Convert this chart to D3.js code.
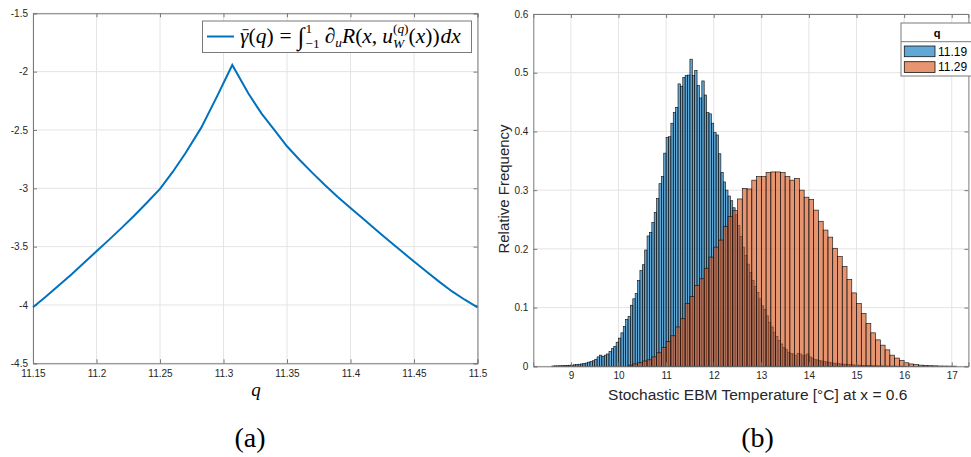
<!DOCTYPE html>
<html>
<head>
<meta charset="utf-8">
<script src="https://cdn.jsdelivr.net/npm/d3@7"></script>
<style>
  body { margin: 0; background: #fff; }
  svg { display: block; }
</style>
</head>
<body>
<script>
// ---- panel (a): gamma bar vs q ----
var qValues = [11.15, 11.16, 11.17, 11.18, 11.19, 11.20, 11.21, 11.22, 11.23, 11.24, 11.25, 11.26, 11.27,
               11.2826, 11.295, 11.3069, 11.3195, 11.33, 11.34, 11.35, 11.36, 11.37, 11.38, 11.39, 11.40,
               11.41, 11.42, 11.43, 11.44, 11.45, 11.46, 11.47, 11.48, 11.49, 11.50];
var gammaValues = [-4.02, -3.93, -3.835, -3.74, -3.64, -3.54, -3.44, -3.337, -3.231, -3.12, -3.005, -2.86, -2.70,
                   -2.478, -2.21, -1.943, -2.186, -2.36, -2.50, -2.64, -2.757, -2.868, -2.974, -3.074, -3.168,
                   -3.262, -3.355, -3.447, -3.538, -3.628, -3.716, -3.802, -3.884, -3.955, -4.02];
var leftXTicks = [11.15, 11.2, 11.25, 11.3, 11.35, 11.4, 11.45, 11.5];
var leftYTicks = [-4.5, -4, -3.5, -3, -2.5, -2, -1.5];

// ---- panel (b): histograms (pdf normalisation) ----
var seriesNames = ["11.19", "11.29"];
var blueStart = 8.6, blueWidth = 0.05;
var blueDensity = [
  0.0005, 0.0008, 0.0008, 0.001, 0.001, 0.0012, 0.0015, 0.0018, 0.002, 0.0025,
  0.003, 0.0035, 0.004, 0.005, 0.0055, 0.007, 0.008, 0.0095, 0.012, 0.016,
  0.019, 0.017, 0.019, 0.021, 0.025, 0.030, 0.034, 0.041, 0.048, 0.057,
  0.068, 0.080, 0.085, 0.104, 0.115, 0.124, 0.146, 0.163, 0.173, 0.198,
  0.222, 0.228, 0.245, 0.262, 0.286, 0.311, 0.323, 0.363, 0.390, 0.391,
  0.414, 0.432, 0.441, 0.481, 0.477, 0.492, 0.495, 0.496, 0.523, 0.495,
  0.504, 0.478, 0.457, 0.486, 0.462, 0.432, 0.430, 0.414, 0.398, 0.394,
  0.362, 0.330, 0.314, 0.300, 0.290, 0.282, 0.270, 0.258, 0.240, 0.221,
  0.203, 0.189, 0.174, 0.160, 0.146, 0.136, 0.126, 0.115, 0.103, 0.097,
  0.086, 0.075, 0.067, 0.058, 0.051, 0.044, 0.038, 0.032, 0.029, 0.024,
  0.022, 0.021, 0.018, 0.022, 0.021, 0.018, 0.019, 0.021, 0.016, 0.014,
  0.012, 0.011, 0.010, 0.009, 0.008, 0.0075, 0.007, 0.006, 0.0055, 0.005,
  0.0045, 0.004, 0.0038, 0.0035, 0.003, 0.0028, 0.0025, 0.0022, 0.002, 0.0018,
  0.0016, 0.0014, 0.0012, 0.0011, 0.001, 0.0009, 0.0008, 0.0007, 0.0006, 0.0005,
  0.0005, 0.0004, 0.0004, 0.0003, 0.0003, 0.0002, 0.0002, 0.0002, 0.0001
];
var orangeStart = 10.2, orangeWidth = 0.1;
var orangeDensity = [
  0.002, 0.004, 0.006, 0.009, 0.011, 0.016, 0.023, 0.032, 0.042, 0.052,
  0.067, 0.081, 0.107, 0.119, 0.138, 0.149, 0.167, 0.186, 0.203, 0.215,
  0.238, 0.255, 0.265, 0.285, 0.303, 0.302, 0.317, 0.323, 0.323, 0.330,
  0.331, 0.331, 0.330, 0.323, 0.317, 0.320, 0.300, 0.288, 0.284, 0.266,
  0.247, 0.232, 0.220, 0.201, 0.187, 0.170, 0.148, 0.125, 0.107, 0.090,
  0.073, 0.057, 0.045, 0.036, 0.028, 0.019, 0.014, 0.010, 0.006, 0.004,
  0.003, 0.002, 0.0015, 0.001, 0.0008, 0.0005, 0.0004, 0.0003, 0.0002
];
var rightXTicks = [9, 10, 11, 12, 13, 14, 15, 16, 17];
var rightYTicks = [0, 0.1, 0.2, 0.3, 0.4, 0.5, 0.6];

var blueCol = "#0072BD", orangeCol = "#D95319";
var axisCol = "#7a7a7a", gridCol = "#e4e4e4", textCol = "#262626";
var sansFont = "'Liberation Sans', Arial, sans-serif",
    serifFont = "'Liberation Serif', 'Times New Roman', serif";

var svg = d3.select("body").append("svg")
    .attr("width", 971)
    .attr("height", 457);

// MATLAB-like boxed axes: inward ticks on all 4 sides, light grid
function boxAxes(g, x, y, xt, yt, fmtX, fmtY, padX) {
    var x0 = x.range()[0], x1 = x.range()[1],
        y0 = y.range()[0], y1 = y.range()[1];

    g.append("g").selectAll("line.gx").data(xt).enter().append("line")
        .attr("x1", function(d){ return x(d); }).attr("x2", function(d){ return x(d); })
        .attr("y1", y0).attr("y2", y1)
        .attr("stroke", gridCol).attr("stroke-width", 1);
    g.append("g").selectAll("line.gy").data(yt).enter().append("line")
        .attr("y1", function(d){ return y(d); }).attr("y2", function(d){ return y(d); })
        .attr("x1", x0).attr("x2", x1)
        .attr("stroke", gridCol).attr("stroke-width", 1);

    var axes = g.append("g").attr("class", "axes");
    axes.append("g").attr("transform", "translate(0," + y0 + ")")
        .call(d3.axisBottom(x).tickValues(xt).tickSize(-4).tickPadding(padX).tickFormat(fmtX));
    axes.append("g").attr("transform", "translate(0," + y1 + ")")
        .call(d3.axisTop(x).tickValues(xt).tickSize(-4).tickFormat(""));
    axes.append("g").attr("transform", "translate(" + x0 + ",0)")
        .call(d3.axisLeft(y).tickValues(yt).tickSize(-4).tickPadding(5).tickFormat(fmtY));
    axes.append("g").attr("transform", "translate(" + x1 + ",0)")
        .call(d3.axisRight(y).tickValues(yt).tickSize(-4).tickFormat(""));

    axes.selectAll("path.domain").attr("stroke", axisCol);
    axes.selectAll(".tick line").attr("stroke", axisCol);
    axes.selectAll(".tick text")
        .attr("fill", textCol)
        .style("font-family", sansFont)
        .style("font-size", "10px");
    return axes;
}

// lays out a small piece of maths, supports stacked sub/superscripts and gaps
function mathText(g, x, y, items, size) {
    var cx = x;
    function put(p, px) {
        var t = g.append("text")
            .attr("x", px)
            .attr("y", y + (p.dy || 0))
            .attr("font-size", size * (p.s || 1))
            .attr("font-style", p.it ? "italic" : "normal")
            .attr("fill", "#000")
            .text(p.t);
        var w = t.node().getComputedTextLength();
        if (p.bar) {
            g.append("line")
                .attr("x1", px + w * 0.3).attr("x2", px + w * 1.0)
                .attr("y1", y - size * 0.62).attr("y2", y - size * 0.62)
                .attr("stroke", "#000").attr("stroke-width", 0.9);
        }
        return w;
    }
    items.forEach(function(it) {
        if (it.gap) {
            cx += it.gap;
        } else if (it.sup || it.sub) {
            var w1 = 0, w2 = 0;
            (it.sup || []).forEach(function(p){ w1 += put(p, cx + w1); });
            (it.sub || []).forEach(function(p){ w2 += put(p, cx + w2); });
            cx += Math.max(w1, w2);
        } else {
            cx += put(it, cx);
        }
    });
    return cx - x;
}

// ================= panel (a) =================
var xL = d3.scaleLinear().domain([11.15, 11.5]).range([33, 477.5]);
var yL = d3.scaleLinear().domain([-4.5, -1.5]).range([363.3, 13.3]);

var gA = svg.append("g");
boxAxes(gA, xL, yL, leftXTicks, leftYTicks,
        function(d){ return String(d); }, function(d){ return String(d); }, 7);

var line = d3.line()
    .x(function(d){ return xL(d[0]); })
    .y(function(d){ return yL(d[1]); });

gA.append("path")
    .datum(qValues.map(function(q, i){ return [q, gammaValues[i]]; }))
    .attr("d", line)
    .attr("fill", "none")
    .attr("stroke", blueCol)
    .attr("stroke-width", 2);

// legend (a)
var legA = gA.append("g");
legA.append("rect")
    .attr("x", 202.5).attr("y", 21).attr("width", 269).attr("height", 31.5)
    .attr("fill", "#fff").attr("stroke", axisCol).attr("stroke-width", 1);
legA.append("line")
    .attr("x1", 207).attr("x2", 234).attr("y1", 36.5).attr("y2", 36.5)
    .attr("stroke", blueCol).attr("stroke-width", 2);
var mathG = legA.append("g").style("font-family", serifFont);
mathText(mathG, 240, 43, [
    {t: "\u03b3", it: 1, bar: 1},
    {t: "("}, {t: "q", it: 1}, {t: ")"}, {gap: 6}, {t: "="}, {gap: 6},
    {t: "\u222b", s: 1.15, dy: 2},
    {gap: 1},
    {sup: [{t: "1", s: 0.62, dy: -10}], sub: [{t: "\u22121", s: 0.62, dy: 5}]},
    {gap: 5}, {t: "\u2202"}, {sub: [{t: "u", it: 1, s: 0.62, dy: 4}]},
    {t: "R", it: 1}, {t: "("}, {t: "x", it: 1}, {t: ","}, {gap: 5}, {t: "u", it: 1},
    {sup: [{t: "(", s: 0.62, dy: -10}, {t: "q", it: 1, s: 0.62, dy: -10}, {t: ")", s: 0.62, dy: -10}],
     sub: [{t: "W", it: 1, s: 0.62, dy: 5}]},
    {t: "("}, {t: "x", it: 1}, {t: "))"}, {gap: 1}, {t: "d", it: 1}, {t: "x", it: 1}
], 21.5);

gA.append("text")
    .attr("x", 256).attr("y", 396)
    .attr("text-anchor", "middle")
    .style("font-family", serifFont).style("font-style", "italic").style("font-size", "19px")
    .text("q");

svg.append("text")
    .attr("x", 250).attr("y", 447)
    .attr("text-anchor", "middle")
    .style("font-family", serifFont).style("font-size", "28px")
    .text("(a)");

// ================= panel (b) =================
var xR = d3.scaleLinear().domain([8.21, 17.35]).range([533.3, 968.4]);
var yR = d3.scaleLinear().domain([0, 0.6]).range([366.3, 14]);

var gB = svg.append("g");
boxAxes(gB, xR, yR, rightXTicks, rightYTicks,
        function(d){ return String(d); }, function(d){ return String(d); }, 6);

function drawHist(g, start, width, vals, col) {
    g.append("g").selectAll("rect").data(vals).enter().append("rect")
        .attr("x", function(d, i){ return xR(start + i * width); })
        .attr("width", function(d, i){ return xR(start + (i + 1) * width) - xR(start + i * width); })
        .attr("y", function(d){ return yR(d); })
        .attr("height", function(d){ return yR(0) - yR(d); })
        .attr("fill", col)
        .attr("fill-opacity", 0.62)
        .attr("stroke", "#141414")
        .attr("stroke-width", 0.65);
}
var barsB = gB.insert("g", ".axes");
drawHist(barsB, blueStart, blueWidth, blueDensity, blueCol);
drawHist(barsB, orangeStart, orangeWidth, orangeDensity, orangeCol);

gB.append("text")
    .attr("transform", "translate(509,189) rotate(-90)")
    .attr("text-anchor", "middle")
    .attr("fill", textCol)
    .style("font-family", sansFont).style("font-size", "15px")
    .text("Relative Frequency");

gB.append("text")
    .attr("x", 757.7).attr("y", 400)
    .attr("text-anchor", "middle")
    .attr("fill", textCol)
    .style("font-family", sansFont).style("font-size", "15.5px")
    .text("Stochastic EBM Temperature [\u00b0C] at x = 0.6");

// legend (b)
var legB = gB.append("g");
legB.append("rect")
    .attr("x", 901).attr("y", 23).attr("width", 80).attr("height", 53)
    .attr("fill", "#fff").attr("stroke", axisCol).attr("stroke-width", 1);
legB.append("line")
    .attr("x1", 901).attr("x2", 981).attr("y1", 41.7).attr("y2", 41.7)
    .attr("stroke", axisCol).attr("stroke-width", 1);
legB.append("text")
    .attr("x", 937).attr("y", 37)
    .attr("text-anchor", "middle")
    .style("font-family", sansFont).style("font-size", "11px").style("font-weight", "bold")
    .text("q");
[blueCol, orangeCol].forEach(function(c, i) {
    legB.append("rect")
        .attr("x", 904.3).attr("y", 46 + i * 15.7).attr("width", 30.7).attr("height", 10.7)
        .attr("fill", c).attr("fill-opacity", 0.62)
        .attr("stroke", "#141414").attr("stroke-width", 0.8);
    legB.append("text")
        .attr("x", 938).attr("y", 55.5 + i * 15.7)
        .attr("fill", "#000")
        .style("font-family", sansFont).style("font-size", "12px")
        .text(seriesNames[i]);
});

svg.append("text")
    .attr("x", 757.5).attr("y", 447)
    .attr("text-anchor", "middle")
    .style("font-family", serifFont).style("font-size", "28px")
    .text("(b)");
</script>
</body>
</html>
